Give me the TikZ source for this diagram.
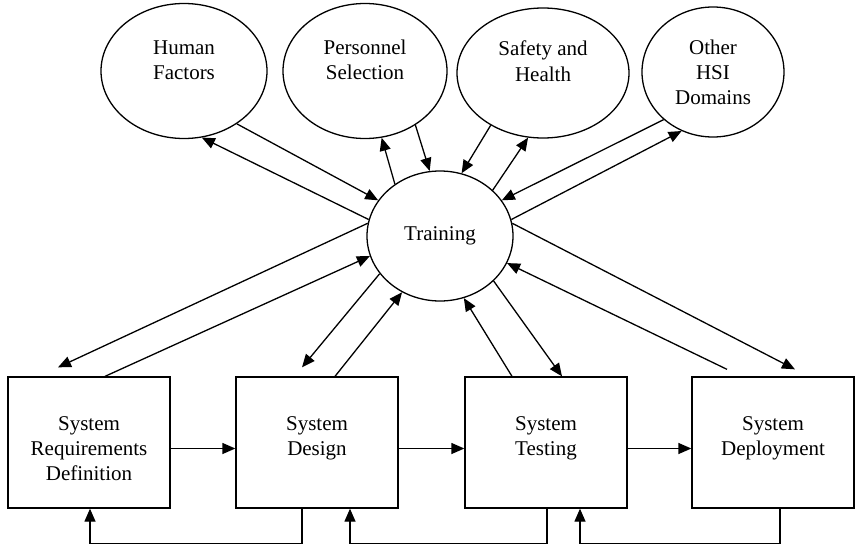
\documentclass[tikz,border=0pt]{standalone}
\usepackage{fontspec}
\setmainfont{Liberation Serif}
\usetikzlibrary{arrows.meta,shapes.geometric}

\begin{document}
\begin{tikzpicture}[x=1pt, y=-1pt, line width=1.3pt, >={Triangle[length=13pt,width=11pt]},
	every node/.style={font=\fontsize{21}{25}\selectfont},
	bubble/.style={draw, ellipse, inner sep=0pt, align=center, text height=35pt, text depth=19pt},
	stage/.style={draw, rectangle, inner sep=0pt, minimum width=162pt, minimum height=131pt, align=center, text height=40pt, text depth=15pt}]
	\useasboundingbox (0,0) rectangle (855,546);
	% HSI domains
	\node[bubble, minimum width=166pt, minimum height=135pt] (hf) at (184,71) {Human\\Factors};
	\node[bubble, minimum width=164pt, minimum height=135pt] (ps) at (365,71) {Personnel\\Selection};
	\node[bubble, minimum width=172pt, minimum height=130pt] (sh) at (543,73) {Safety and\\Health};
	\node[bubble, minimum width=142pt, minimum height=130pt, text height=75pt, text depth=11pt] (hsi) at (713,72) {Other\\HSI\\Domains};
	\node[draw, ellipse, inner sep=0pt, minimum width=146pt, minimum height=130pt] (train) at (440,236) {Training};
	% life cycle stages
	\node[stage, text height=90pt] (req) at (89,442.5) {System\\Requirements\\Definition};
	\node[stage] (des) at (317,442.5) {System\\Design};
	\node[stage] (test) at (546,442.5) {System\\Testing};
	\node[stage] (dep) at (773,442.5) {System\\Deployment};
	% domains <-> training
	\draw[->] (hf.315) -- (train.150);
	\draw[->] (train.167) -- (hf.285);
	\draw[->] (train.131) -- (ps.284);
	\draw[->] (ps.313) -- (train.99);
	\draw[->] (sh.225) -- (train.71);
	\draw[->] (train.41) -- (sh.257);
	\draw[->] (hsi.224) -- (train.30);
	\draw[->] (train.13) -- (hsi.242);
	% stages <-> training
	\draw[->] (train.170) -- ([xshift=-31pt,yshift=9pt]req.north);
	\draw[->] ([xshift=16pt]req.north) -- (train.196);
	\draw[->] (train.212) -- ([xshift=-15pt,yshift=9pt]des.north);
	\draw[->] ([xshift=18pt]des.north) -- (train.236);
	\draw[->] ([xshift=-34pt]test.north) -- (train.291);
	\draw[->] (train.320) -- ([xshift=16pt]test.north);
	\draw[->] ([xshift=-46pt,yshift=7pt]dep.north) -- (train.338);
	\draw[->] (train.10) -- ([xshift=22pt,yshift=7pt]dep.north);
	% forward flow
	\draw[->] ([yshift=-6pt]req.east) -- ([yshift=-6pt]des.west);
	\draw[->] ([yshift=-6pt]des.east) -- ([yshift=-6pt]test.west);
	\draw[->] ([yshift=-6pt]test.east) -- ([yshift=-6pt]dep.west);
	% feedback
	\draw[->] ([xshift=-15pt]des.south) -- ++(0,35) -| ([xshift=1pt]req.south);
	\draw[->] ([xshift=1pt]test.south) -- ++(0,35) -| ([xshift=33pt]des.south);
	\draw[->] ([xshift=7pt]dep.south) -- ++(0,35) -| ([xshift=34pt]test.south);
\end{tikzpicture}
\end{document}
